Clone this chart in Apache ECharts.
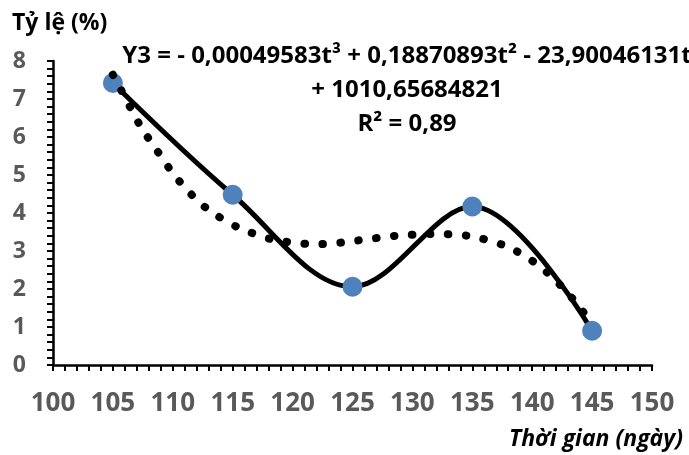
<!DOCTYPE html>
<html>
<head>
<meta charset="utf-8">
<title>Tỷ lệ theo thời gian</title>
<script src="https://cdn.jsdelivr.net/npm/echarts@6/dist/echarts.min.js"></script>
<style>
  html, body { margin: 0; padding: 0; background: #fff; }
  #chart { width: 689px; height: 455px; }
</style>
</head>
<body>
<div id="chart"></div>
<script>
// measured points
const days = [105, 115, 125, 135, 145];
const rates = [7.42, 4.48, 2.06, 4.17, 0.9];

// cubic trendline
const trendDays = [105, 106, 107, 108, 109, 110, 111, 112, 113, 114, 115, 116, 117, 118, 119, 120,
  121, 122, 123, 124, 125, 126, 127, 128, 129, 130, 131, 132, 133, 134, 135, 136, 137, 138, 139, 140,
  141, 142, 143, 144, 145];
const trendRates = [7.64, 7.05, 6.45, 5.95, 5.5, 5.05, 4.68, 4.35, 4.08, 3.87, 3.69, 3.55, 3.43, 3.33, 3.27, 3.22,
  3.19, 3.18, 3.19, 3.22, 3.26, 3.3, 3.34, 3.38, 3.41, 3.43, 3.45, 3.45, 3.44, 3.42, 3.38, 3.31, 3.22, 3.1, 2.94, 2.74,
  2.5, 2.21, 1.88, 1.5, 1.1];

const equationLines = [
  'Y3 = - 0,00049583t³ + 0,18870893t² - 23,90046131t',
  '+ 1010,65684821',
  'R² = 0,89'
];

const chart = echarts.init(document.getElementById('chart'));

const font = '"Open Sans", "Noto Sans", sans-serif';
const tickStyle = { color: '#000', width: 2, type: 'solid' };

chart.setOption({
  animation: false,
  grid: { left: 53, right: 37, top: 61, bottom: 90 },
  xAxis: {
    type: 'value',
    min: 100,
    max: 150,
    interval: 5,
    axisLine: { show: true, lineStyle: { color: '#000', width: 2.5 } },
    axisTick: { show: true, length: 6, lineStyle: tickStyle },
    minorTick: { show: true, splitNumber: 5, length: 6, lineStyle: tickStyle },
    splitLine: { show: false },
    axisLabel: { color: '#595959', fontWeight: 'bold', fontSize: 26, fontFamily: font, margin: 26 }
  },
  yAxis: {
    type: 'value',
    min: 0,
    max: 8,
    interval: 1,
    axisLine: { show: true, lineStyle: { color: '#000', width: 2.5 } },
    axisTick: { show: true, length: 6, lineStyle: tickStyle },
    minorTick: { show: true, splitNumber: 5, length: 6, lineStyle: tickStyle },
    splitLine: { show: false },
    axisLabel: { color: '#595959', fontWeight: 'bold', fontSize: 23, fontFamily: font, margin: 27 }
  },
  graphic: [
    {
      type: 'text',
      x: 12,
      y: 12,
      style: { text: 'Tỷ lệ (%)', font: 'bold 23px ' + font, fill: '#000' }
    },
    {
      type: 'text',
      x: 683,
      y: 428,
      style: { text: 'Thời gian (ngày)', font: 'italic bold 23px ' + font, fill: '#000', align: 'right' }
    },
    {
      type: 'text',
      x: 407,
      y: 39,
      style: {
        text: equationLines.join('\n'),
        font: 'bold 24px ' + font,
        fill: '#000',
        align: 'center',
        lineHeight: 34
      }
    }
  ],
  series: [
    {
      name: 'Tỷ lệ',
      type: 'line',
      data: days.map((d, i) => [d, rates[i]]),
      smooth: 0.35,
      symbol: 'circle',
      symbolSize: 20,
      itemStyle: { color: '#4F81BD' },
      lineStyle: { color: '#000', width: 5 }
    },
    {
      name: 'Y3',
      type: 'line',
      zlevel: 1,
      data: trendDays.map((d, i) => [d, trendRates[i]]),
      smooth: true,
      showSymbol: false,
      lineStyle: { color: '#000', width: 8, type: [0.5, 17.5], cap: 'round' }
    }
  ]
});
</script>
</body>
</html>
